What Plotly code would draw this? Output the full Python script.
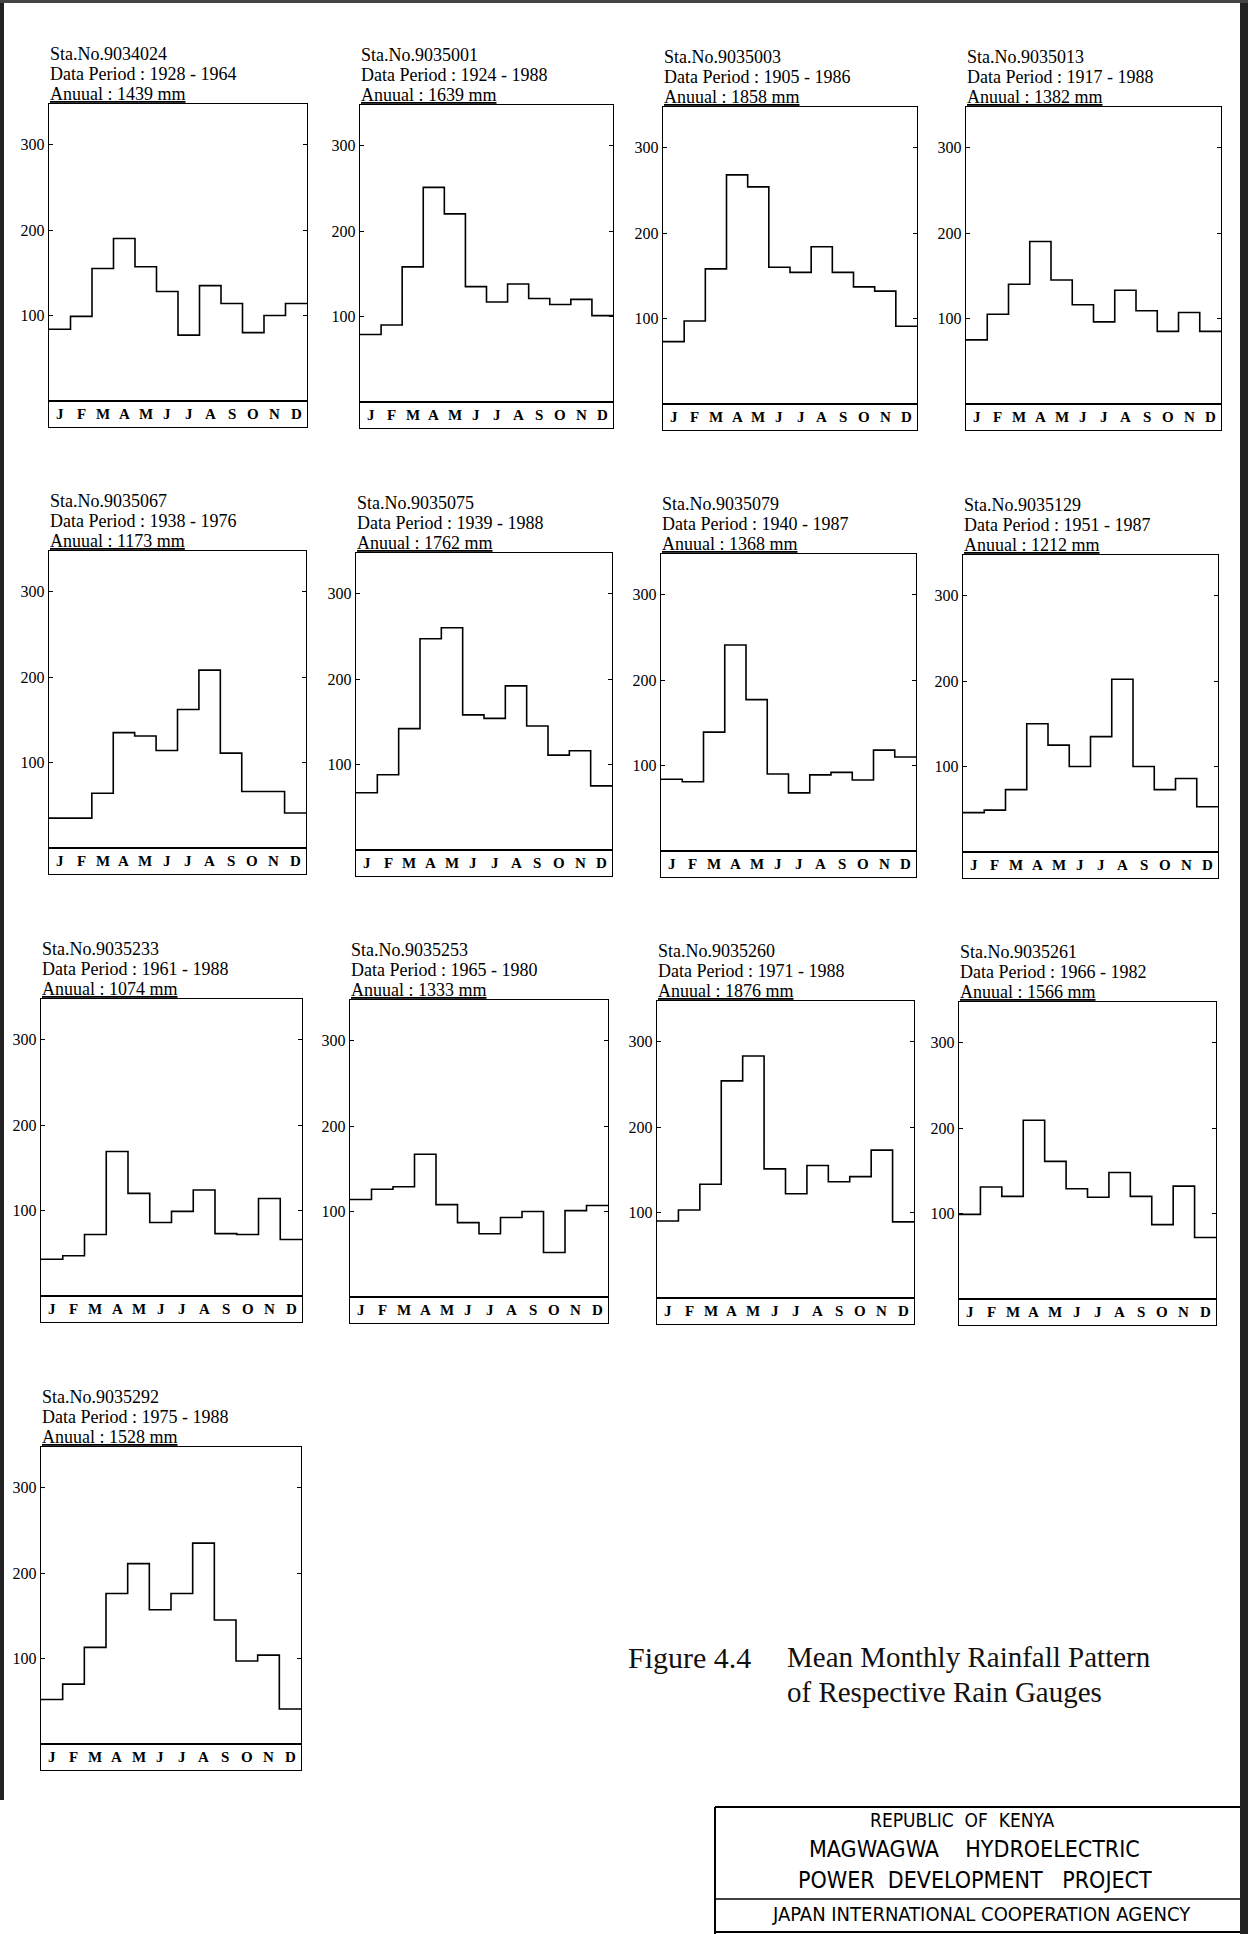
import plotly.graph_objects as go

# ---------------- data ----------------
MONTHS = ["J", "F", "M", "A", "M", "J", "J", "A", "S", "O", "N", "D"]
Y_TICKS = [100, 200, 300]

STATION_NO = ["9034024", "9035001", "9035003", "9035013",
              "9035067", "9035075", "9035079", "9035129",
              "9035233", "9035253", "9035260", "9035261",
              "9035292"]
DATA_PERIOD = ["1928 - 1964", "1924 - 1988", "1905 - 1986", "1917 - 1988",
               "1938 - 1976", "1939 - 1988", "1940 - 1987", "1951 - 1987",
               "1961 - 1988", "1965 - 1980", "1971 - 1988", "1966 - 1982",
               "1975 - 1988"]
ANNUAL_MM = [1439, 1639, 1858, 1382,
             1173, 1762, 1368, 1212,
             1074, 1333, 1876, 1566,
             1528]

RAIN_9034024 = [84, 99, 155, 190, 157, 128, 77, 135, 114, 80, 100, 114]
RAIN_9035001 = [79, 90, 158, 251, 220, 135, 117, 138, 121, 114, 120, 101]
RAIN_9035003 = [73, 97, 158, 268, 254, 160, 154, 184, 154, 137, 132, 91]
RAIN_9035013 = [75, 105, 140, 190, 145, 116, 96, 133, 109, 85, 107, 85]
RAIN_9035067 = [35, 35, 64, 135, 131, 114, 162, 208, 111, 66, 66, 41]
RAIN_9035075 = [67, 88, 142, 247, 260, 158, 154, 192, 145, 111, 116, 75]
RAIN_9035079 = [84, 81, 139, 241, 177, 90, 68, 89, 92, 83, 118, 110]
RAIN_9035129 = [46, 49, 73, 150, 125, 100, 135, 202, 100, 73, 86, 53]
RAIN_9035233 = [43, 47, 72, 169, 120, 86, 99, 124, 73, 72, 114, 66]
RAIN_9035253 = [114, 126, 129, 167, 108, 87, 74, 93, 100, 52, 101, 107]
RAIN_9035260 = [90, 103, 133, 254, 283, 151, 122, 155, 136, 142, 173, 89]
RAIN_9035261 = [99, 131, 120, 209, 161, 129, 119, 148, 120, 87, 132, 72]
RAIN_9035292 = [52, 70, 113, 176, 211, 157, 176, 235, 145, 97, 104, 41]

RAINFALL = [RAIN_9034024, RAIN_9035001, RAIN_9035003, RAIN_9035013,
            RAIN_9035067, RAIN_9035075, RAIN_9035079, RAIN_9035129,
            RAIN_9035233, RAIN_9035253, RAIN_9035260, RAIN_9035261,
            RAIN_9035292]

# ---------------- layout geometry (pixels) ----------------
W, H = 1248, 1934
PX_PER_UNIT = 0.855
PLOT_H = 297      # box top -> zero line
STRIP_H = 26      # month strip height
LEFTS = [49, 360, 663, 966, 49, 356, 661, 963, 41, 350, 657, 959, 41]
RIGHTS = [307, 613, 917, 1221, 306, 612, 916, 1218, 302, 608, 914, 1216, 301]
TOPS = [104, 105, 107, 107, 551, 553, 554, 555, 999, 1000, 1001, 1002, 1447]

SERIF = "Liberation Serif, Times New Roman, serif"
NARROW = "Liberation Sans Narrow, DejaVu Sans Condensed, Arial Narrow, Liberation Sans, sans-serif"

y_top = PLOT_H / PX_PER_UNIT
y_bot = -STRIP_H / PX_PER_UNIT

fig = go.Figure()
annotations = []
layout_axes = {}

for i, vals in enumerate(RAINFALL):
    n = "" if i == 0 else str(i + 1)
    L, R, T = LEFTS[i], RIGHTS[i], TOPS[i]
    B = T + PLOT_H + STRIP_H
    xs = list(range(len(vals) + 1))
    ys = list(vals) + [vals[-1]]
    fig.add_trace(go.Scatter(
        x=xs, y=ys, mode="lines", line=dict(color="black", width=1.6, shape="hv"),
        xaxis="x" + n, yaxis="y" + n, showlegend=False, hoverinfo="skip"))

    layout_axes["xaxis" + n] = dict(
        domain=[L / W, R / W], range=[0, 12], anchor="y" + n,
        showline=True, linecolor="black", linewidth=1.3, mirror=True,
        showgrid=False, zeroline=False, showticklabels=False, ticks="",
        fixedrange=True)
    layout_axes["yaxis" + n] = dict(
        domain=[1 - B / H, 1 - T / H], range=[y_bot, y_top], anchor="x" + n,
        showline=True, linecolor="black", linewidth=1.3, mirror="ticks",
        showgrid=False, zeroline=True, zerolinecolor="black", zerolinewidth=1.3,
        tickvals=Y_TICKS, ticks="inside", ticklen=4, tickcolor="black",
        tickfont=dict(family=SERIF, size=16, color="black"),
        fixedrange=True)

    # month labels inside strip
    for m, lab in enumerate(MONTHS):
        annotations.append(dict(
            x=m + 0.5, y=y_bot / 2, xref="x" + n, yref="y" + n,
            text="<b>" + lab + "</b>", showarrow=False,
            font=dict(family=SERIF, size=15, color="black"),
            xanchor="center", yanchor="middle"))

    # header text
    lines = ["Sta.No." + STATION_NO[i],
             "Data Period : " + DATA_PERIOD[i],
             '<span style="text-decoration:underline">Anuual : %d mm</span>' % ANNUAL_MM[i]]
    for k, txt in enumerate(lines):
        cy = T - 10 - (2 - k) * 20
        annotations.append(dict(
            x=(L - 1) / W, y=1 - cy / H, xref="paper", yref="paper",
            text=txt, showarrow=False, xanchor="left", yanchor="middle",
            font=dict(family=SERIF, size=18, color="black")))

# caption
CAP = 29
annotations.append(dict(x=626 / W, y=1 - 1657 / H, xref="paper", yref="paper",
                        text="Figure 4.4", showarrow=False, xanchor="left", yanchor="middle",
                        font=dict(family=SERIF, size=CAP + 1, color="#111")))
annotations.append(dict(x=785 / W, y=1 - 1657 / H, xref="paper", yref="paper",
                        text="Mean Monthly Rainfall Pattern", showarrow=False,
                        xanchor="left", yanchor="middle",
                        font=dict(family=SERIF, size=CAP, color="#111")))
annotations.append(dict(x=785 / W, y=1 - 1692 / H, xref="paper", yref="paper",
                        text="of Respective Rain Gauges", showarrow=False,
                        xanchor="left", yanchor="middle",
                        font=dict(family=SERIF, size=CAP, color="#111")))

# title block
SP = "\u00a0"
block = [("REPUBLIC" + SP * 2 + "OF" + SP * 2 + "KENYA", 1820, 19, 962),
         ("MAGWAGWA" + SP * 4 + "HYDROELECTRIC", 1849, 23, 974),
         ("POWER" + SP * 2 + "DEVELOPMENT" + SP * 3 + "PROJECT", 1880, 23, 975),
         ("JAPAN INTERNATIONAL COOPERATION AGENCY", 1914, 20, 981)]
for txt, cy, sz, cx in block:
    annotations.append(dict(x=cx / W, y=1 - cy / H, xref="paper", yref="paper",
                            text=txt, showarrow=False, xanchor="center", yanchor="middle",
                            font=dict(family=NARROW, size=sz, color="black")))

shapes = [
    dict(type="line", xref="paper", yref="paper", x0=715 / W, x1=1, y0=1 - 1807 / H, y1=1 - 1807 / H,
         line=dict(color="black", width=2)),
    dict(type="line", xref="paper", yref="paper", x0=715 / W, x1=715 / W, y0=0, y1=1 - 1807 / H,
         line=dict(color="black", width=2)),
    dict(type="line", xref="paper", yref="paper", x0=715 / W, x1=1, y0=1 - 1899 / H, y1=1 - 1899 / H,
         line=dict(color="black", width=1.5)),
    dict(type="line", xref="paper", yref="paper", x0=715 / W, x1=1, y0=1 - 1932 / H, y1=1 - 1932 / H,
         line=dict(color="black", width=2)),
    # scan edges
    dict(type="rect", xref="paper", yref="paper", x0=0, x1=4 / W, y0=1 - 1800 / H, y1=1,
         fillcolor="#222", line=dict(width=0)),
    dict(type="rect", xref="paper", yref="paper", x0=1240 / W, x1=1, y0=0, y1=1,
         fillcolor="#222", line=dict(width=0)),
    dict(type="rect", xref="paper", yref="paper", x0=0, x1=1, y0=1 - 3 / H, y1=1,
         fillcolor="#444", line=dict(width=0)),
]

fig.update_layout(
    width=W, height=H, margin=dict(l=0, r=0, t=0, b=0),
    paper_bgcolor="white", plot_bgcolor="white",
    showlegend=False, annotations=annotations, shapes=shapes,
    **layout_axes)

fig.write_html("out.html",
               config={"displayModeBar": False, "staticPlot": True},
               post_script="document.body.style.margin='0px';document.body.style.overflow='hidden';")
